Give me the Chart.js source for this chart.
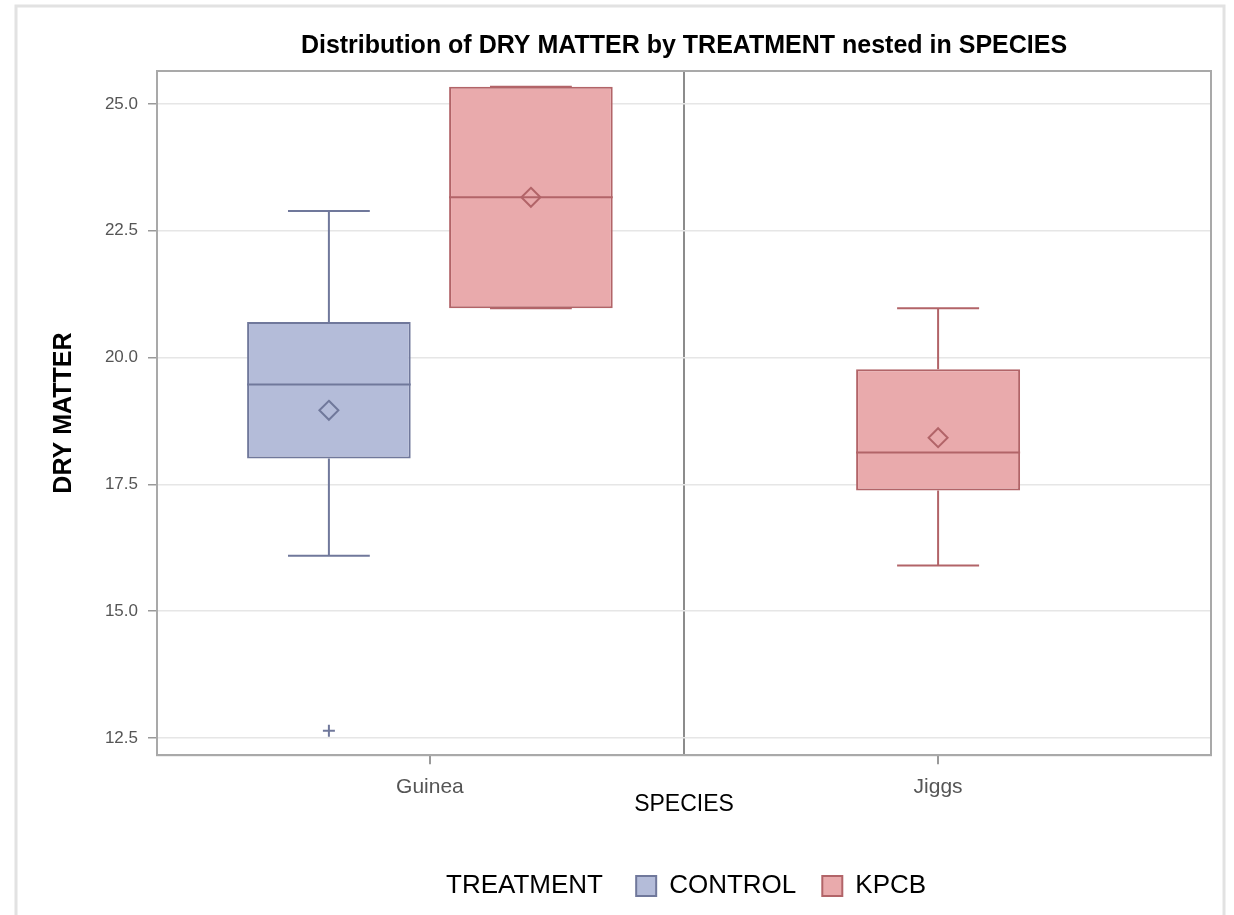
<!DOCTYPE html>
<html>
<head>
<meta charset="utf-8">
<title>Distribution of DRY MATTER</title>
<script src="https://cdn.jsdelivr.net/npm/chart.js@4.4.0/dist/chart.umd.min.js"></script>
<style>
    html, body { margin: 0; padding: 0; background: #ffffff; }
    canvas { display: block; }
</style>
</head>
<body>
<canvas id="chart1" width="1234" height="915"></canvas>
<script>
// Categories and tick labels
const species = ['Guinea', 'Jiggs'];
const yTickValues = [12.5, 15.0, 17.5, 20.0, 22.5, 25.0];

// CONTROL summary per species (null = no group)
const controlMin = [16.09, null];
const controlQ1 = [18.01, null];
const controlMedian = [19.47, null];
const controlMean = [18.96, null];
const controlQ3 = [20.70, null];
const controlMax = [22.89, null];
const controlOutliers = [[12.64], []];

// KPCB summary per species
const kpcbMin = [20.97, 15.90];
const kpcbQ1 = [20.97, 17.38];
const kpcbMedian = [23.16, 18.13];
const kpcbMean = [23.16, 18.42];
const kpcbQ3 = [25.34, 19.77];
const kpcbMax = [25.34, 20.97];
const kpcbOutliers = [[], []];

const summaries = [
    { min: controlMin, q1: controlQ1, median: controlMedian, mean: controlMean, q3: controlQ3, max: controlMax, outliers: controlOutliers },
    { min: kpcbMin, q1: kpcbQ1, median: kpcbMedian, mean: kpcbMean, q3: kpcbQ3, max: kpcbMax, outliers: kpcbOutliers }
];

const sans = "'Liberation Sans', Arial, sans-serif";

// floating bar = the box from Q1 to Q3
const boxData = (q1, q3) => species.map((s, i) => ({ x: i, y: q1[i] == null ? null : [q1[i], q3[i]] }));

// whiskers, median line, mean diamond and outliers on top of the bars
const boxExtras = {
    id: 'boxExtras',
    afterDatasetsDraw(chart) {
        const { ctx } = chart;
        const y = chart.scales.y;
        chart.data.datasets.forEach((ds, di) => {
            const meta = chart.getDatasetMeta(di);
            const s = summaries[di];
            meta.data.forEach((bar, i) => {
                if (s.q1[i] == null) return;
                const cap = bar.width / 4;
                const half = bar.width / 2;
                ctx.save();
                ctx.strokeStyle = ds.borderColor;
                ctx.lineWidth = 2;
                ctx.beginPath();
                ctx.moveTo(bar.x, y.getPixelForValue(s.q3[i]));
                ctx.lineTo(bar.x, y.getPixelForValue(s.max[i]));
                ctx.moveTo(bar.x - cap, y.getPixelForValue(s.max[i]));
                ctx.lineTo(bar.x + cap, y.getPixelForValue(s.max[i]));
                ctx.moveTo(bar.x, y.getPixelForValue(s.q1[i]));
                ctx.lineTo(bar.x, y.getPixelForValue(s.min[i]));
                ctx.moveTo(bar.x - cap, y.getPixelForValue(s.min[i]));
                ctx.lineTo(bar.x + cap, y.getPixelForValue(s.min[i]));
                // median
                ctx.moveTo(bar.x - half, y.getPixelForValue(s.median[i]));
                ctx.lineTo(bar.x + half, y.getPixelForValue(s.median[i]));
                ctx.stroke();
                // mean diamond
                const my = y.getPixelForValue(s.mean[i]);
                const r = 9.5;
                ctx.beginPath();
                ctx.moveTo(bar.x, my - r);
                ctx.lineTo(bar.x + r, my);
                ctx.lineTo(bar.x, my + r);
                ctx.lineTo(bar.x - r, my);
                ctx.closePath();
                ctx.stroke();
                // outliers
                ctx.lineWidth = 2;
                s.outliers[i].forEach(v => {
                    const oy = y.getPixelForValue(v);
                    ctx.beginPath();
                    ctx.moveTo(bar.x - 6, oy);
                    ctx.lineTo(bar.x + 6, oy);
                    ctx.moveTo(bar.x, oy - 6);
                    ctx.lineTo(bar.x, oy + 6);
                    ctx.stroke();
                });
                ctx.restore();
            });
        });
    },
    afterDraw(chart) {
        // plot frame and outer frame
        const { ctx, chartArea: a } = chart;
        ctx.save();
        ctx.strokeStyle = '#a9a9a9';
        ctx.lineWidth = 2;
        ctx.strokeRect(a.left, a.top, a.right - a.left, a.bottom - a.top);
        ctx.strokeStyle = '#e2e2e2';
        ctx.lineWidth = 3;
        ctx.strokeRect(16, 6, 1208, 930);
        ctx.restore();
    }
};

window.addEventListener('DOMContentLoaded', () => {
    const ctx = document.getElementById('chart1').getContext('2d');

    new Chart(ctx, {
        type: 'bar',
        data: {
            datasets: [{
                label: 'CONTROL',
                data: boxData(controlQ1, controlQ3),
                backgroundColor: 'rgb(180, 188, 217)',
                borderColor: 'rgb(112, 120, 155)',
                borderWidth: 2,
                borderSkipped: false
            }, {
                label: 'KPCB',
                data: boxData(kpcbQ1, kpcbQ3),
                backgroundColor: 'rgb(233, 170, 172)',
                borderColor: 'rgb(178, 100, 104)',
                borderWidth: 2,
                borderSkipped: false
            }]
        },
        options: {
            responsive: false,
            maintainAspectRatio: false,
            animation: false,
            skipNull: true,
            categoryPercentage: 1.59,
            barPercentage: 0.81,
            maxBarThickness: 164,
            layout: { padding: { left: 0, right: 23, top: 0, bottom: 6 } },
            plugins: {
                tooltip: { enabled: false },
                title: {
                    display: true,
                    fullSize: false,
                    text: 'Distribution of DRY MATTER by TREATMENT nested in SPECIES',
                    color: '#000',
                    font: { family: sans, size: 25, weight: 'bold' },
                    padding: { top: 31, bottom: 10 }
                },
                legend: {
                    position: 'bottom',
                    fullSize: false,
                    labels: {
                        color: '#000',
                        font: { family: sans, size: 26 },
                        boxWidth: 20,
                        boxHeight: 20,
                        padding: 26,
                        generateLabels: chart => {
                            const items = Chart.defaults.plugins.legend.labels.generateLabels(chart);
                            // legend title sits inline, before the entries
                            items.unshift({
                                text: 'TREATMENT ',
                                fillStyle: 'rgba(0,0,0,0)',
                                strokeStyle: 'rgba(0,0,0,0)',
                                lineWidth: 0,
                                hidden: false,
                                datasetIndex: -1
                            });
                            items[items.length - 1].text += '    ';
                            return items;
                        }
                    },
                    onClick: () => {}
                }
            },
            scales: {
                x: {
                    type: 'linear',
                    min: -0.537,
                    max: 1.537,
                    offset: false,
                    afterBuildTicks: scale => {
                        scale.ticks = [0, 0.5, 1].map(v => ({ value: v }));
                    },
                    ticks: {
                        color: '#555',
                        font: { family: sans, size: 21 },
                        padding: 10,
                        maxRotation: 0,
                        autoSkip: false,
                        callback: v => species[v] !== undefined ? species[v] : ''
                    },
                    grid: {
                        offset: false,
                        tickLength: 9,
                        color: c => c.tick && c.tick.value === 0.5 ? '#8c8c8c' : 'rgba(0,0,0,0)',
                        tickColor: c => c.tick && c.tick.value === 0.5 ? 'rgba(0,0,0,0)' : '#9a9a9a',
                        lineWidth: 2
                    },
                    border: { color: '#a9a9a9', width: 2 },
                    title: {
                        display: true,
                        text: 'SPECIES',
                        color: '#000',
                        font: { family: sans, size: 23 },
                        padding: { top: -19, bottom: 29 }
                    }
                },
                y: {
                    min: 12.16,
                    max: 25.65,
                    afterBuildTicks: scale => {
                        scale.ticks = yTickValues.map(v => ({ value: v }));
                    },
                    afterFit: scale => { scale.width = 157; },
                    ticks: {
                        color: '#555',
                        font: { family: sans, size: 17 },
                        padding: 10,
                        callback: v => v.toFixed(1)
                    },
                    grid: {
                        color: '#e6e6e6',
                        tickColor: '#9a9a9a',
                        tickLength: 9,
                        lineWidth: 1.5
                    },
                    border: { color: '#a9a9a9', width: 2 },
                    title: {
                        display: true,
                        text: 'DRY MATTER',
                        color: '#000',
                        font: { family: sans, size: 25, weight: 'bold' },
                        padding: { top: 49, bottom: 0 }
                    }
                }
            }
        },
        plugins: [boxExtras]
    });
});
</script>
</body>
</html>
